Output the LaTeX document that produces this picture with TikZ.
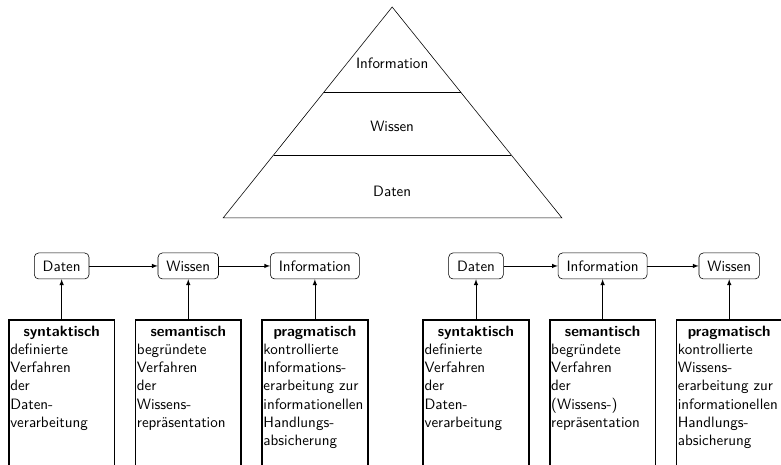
\documentclass[tikz,border=0pt]{standalone}
\usepackage{tikz}
\usetikzlibrary{positioning, calc}

\begin{document}
\begin{tikzpicture} [font=\sffamily\fontsize{10.4}{12.6}\selectfont,
            node distance = 3.08cm,
            on grid,
            term/.style = {draw, rounded corners=3pt,
                minimum height=18pt, inner xsep=5.8pt},
            desc/.style = {draw, very thick, text width=2.5cm,
                inner xsep=1pt, inner ysep=4pt, text depth=5cm, align=left}]

        % Frame
        \useasboundingbox (0,0) rectangle (19.0,-11.31);
        \clip (0,0) rectangle (19.0,-11.31);

        % Pyramid
        \coordinate (top) at (9.54,-0.17);
        \coordinate (bl) at (5.43,-5.30);
        \coordinate (br) at (13.67,-5.30);
        \draw (top) -- (bl) -- (br) -- cycle;
        \draw ($(top)!0.403!(bl)$) -- ($(top)!0.403!(br)$);
        \draw ($(top)!0.701!(bl)$) -- ($(top)!0.701!(br)$);

        % Pyramid labels
        \node (pinfo) at (9.54,-1.53) {Information};
        \node (pwissen) at (9.54,-3.07) {Wissen};
        \node (pdaten) at (9.54,-4.65) {Daten};

        % Left chain
        \node (d1) [term] at (1.50,-6.47) {Daten};
        \node (w1) [term, right = of d1] {Wissen};
        \node (i1) [term, right = of w1] {Information};

        % Right chain
        \node (d2) [term] at (11.58,-6.47) {Daten};
        \node (i2) [term, right = of d2] {Information};
        \node (w2) [term, right = of i2] {Wissen};

        % Left boxes
        \node (syn1) [desc, on grid=false, below = 0.97cm of d1]
            {{\centering\textbf{syntaktisch}\par}definierte\\Verfahren\\der\\Daten-\\verarbeitung};
        \node (sem1) [desc, on grid=false, below = 0.97cm of w1]
            {{\centering\textbf{semantisch}\par}begründete\\Verfahren\\der\\Wissens-\\repräsentation};
        \node (prag1) [desc, on grid=false, below = 0.97cm of i1]
            {{\centering\textbf{pragmatisch}\par}kontrollierte\\Informations-\\erarbeitung zur\\informationellen\\Handlungs-\\absicherung};

        % Right boxes
        \node (syn2) [desc, on grid=false, below = 0.97cm of d2]
            {{\centering\textbf{syntaktisch}\par}definierte\\Verfahren\\der\\Daten-\\verarbeitung};
        \node (sem2) [desc, on grid=false, below = 0.97cm of i2]
            {{\centering\textbf{semantisch}\par}begründete\\Verfahren\\der\\(Wissens-)\\repräsentation};
        \node (prag2) [desc, on grid=false, below = 0.97cm of w2]
            {{\centering\textbf{pragmatisch}\par}kontrollierte\\Wissens-\\erarbeitung zur\\informationellen\\Handlungs-\\absicherung};

        % Arrows
        \path [-latex]
            (d1) edge (w1)
            (w1) edge (i1)
            (d2) edge (i2)
            (i2) edge (w2)
            (syn1) edge (d1)
            (sem1) edge (w1)
            (prag1) edge (i1)
            (syn2) edge (d2)
            (sem2) edge (i2)
            (prag2) edge (w2)
            ;
        \end{tikzpicture}
\end{document}
